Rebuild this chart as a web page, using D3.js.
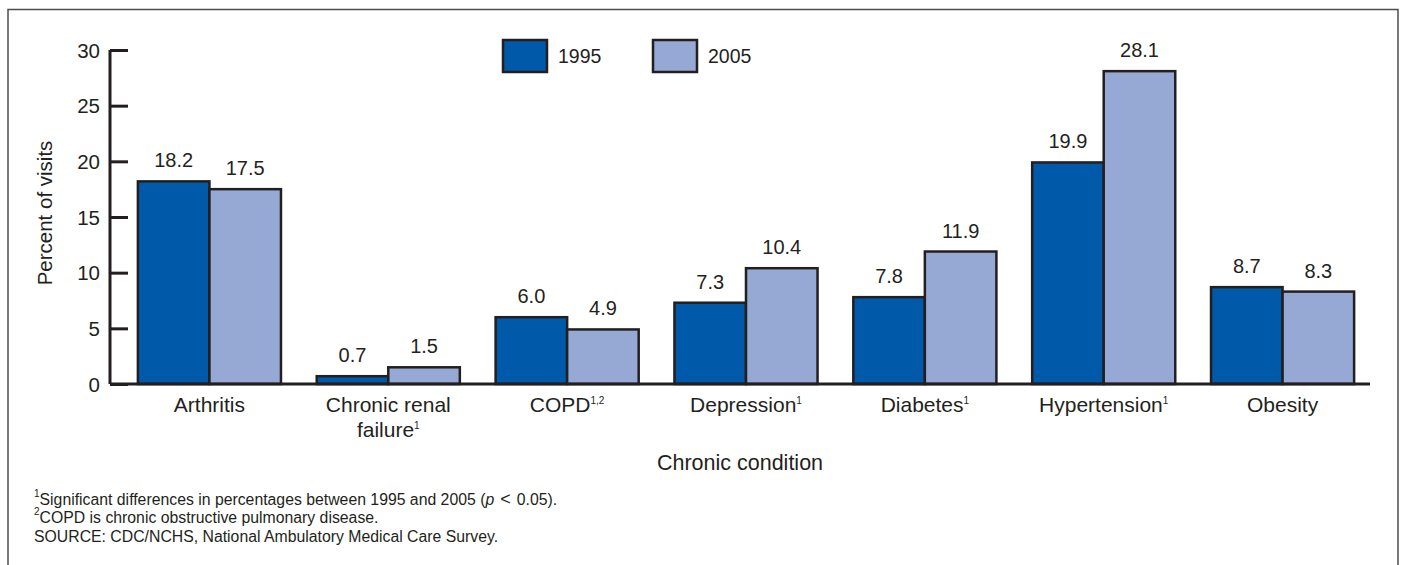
<!DOCTYPE html>
<meta charset="utf-8">
<style>
body { margin: 0; background: #fff; }
svg text { font-family: "Liberation Sans", Arial, sans-serif; fill: #231f20; }
.axis path, .axis line { stroke: #231f20; stroke-width: 3; }
.axis text { font-size: 20.5px; }
.bar { stroke: #231f20; stroke-width: 2.5; }
</style>
<svg class="chart" width="1401" height="565"></svg>
<script src="https://cdnjs.cloudflare.com/ajax/libs/d3/7.8.5/d3.min.js"></script>
<script>

// chart data
var conditions = ["Arthritis", "Chronic renal failure", "COPD", "Depression", "Diabetes", "Hypertension", "Obesity"];
var labelLines = [["Arthritis"], ["Chronic renal", "failure"], ["COPD"], ["Depression"], ["Diabetes"], ["Hypertension"], ["Obesity"]];
var labelSups = ["", "1", "1,2", "1", "1", "1", ""];
var years = ["1995", "2005"];
var values1995 = [18.2, 0.7, 6.0, 7.3, 7.8, 19.9, 8.7];
var values2005 = [17.5, 1.5, 4.9, 10.4, 11.9, 28.1, 8.3];
var yTicks = [0, 5, 10, 15, 20, 25, 30];
var colors = ["#005aa9", "#95a9d4"];

var svg = d3.select(".chart");

// frame
svg.append("path")
  .attr("d", "M8,566 V9.5 H1398 V566")
  .attr("fill", "none")
  .attr("stroke", "#4d4d4f")
  .attr("stroke-width", 1.5);

var y = d3.scaleLinear().domain([0, 30]).range([384, 50]);

var x = d3.scaleBand()
  .domain(conditions)
  .range([120, 1372])
  .paddingInner(0.2)
  .paddingOuter(0.1);

var xs = d3.scaleBand().domain(years).range([0, x.bandwidth()]);

var series = [values1995, values2005];

var groups = svg.selectAll("g.grp")
  .data(conditions)
  .enter().append("g")
  .attr("class", "grp")
  .attr("transform", function(d) { return "translate(" + x(d) + ",0)"; });

groups.each(function(c, i) {
  var g = d3.select(this);
  years.forEach(function(yr, j) {
    var v = series[j][i];
    g.append("rect")
      .attr("class", "bar")
      .attr("x", xs(yr))
      .attr("width", xs.bandwidth())
      .attr("y", y(v))
      .attr("height", y(0) - y(v))
      .attr("fill", colors[j]);
    g.append("text")
      .attr("x", xs(yr) + xs.bandwidth() / 2)
      .attr("y", y(v) - 14)
      .attr("text-anchor", "middle")
      .attr("font-size", 20)
      .text(v.toFixed(1));
  });
});

// y axis
var yAxis = d3.axisLeft(y).tickValues(yTicks).tickSize(-18).tickPadding(10);
var yg = svg.append("g")
  .attr("class", "axis")
  .attr("transform", "translate(110,0)")
  .call(yAxis);
yg.select(".domain").attr("d", "M0,50 V384");
yg.selectAll("text").attr("dy", "0.35em");

// x baseline
svg.append("line")
  .attr("x1", 110).attr("x2", 1370)
  .attr("y1", y(0)).attr("y2", y(0))
  .attr("stroke", "#231f20").attr("stroke-width", 3);

// x labels
conditions.forEach(function(c, i) {
  var cx = x(c) + x.bandwidth() / 2;
  var lines = labelLines[i];
  lines.forEach(function(line, k) {
    var t = svg.append("text")
      .attr("x", cx)
      .attr("y", 412 + k * 25)
      .attr("text-anchor", "middle")
      .attr("font-size", 21);
    t.append("tspan").text(line);
    if (k === lines.length - 1 && labelSups[i]) {
      t.append("tspan").attr("dy", -8).attr("font-size", 10).text(labelSups[i]);
    }
  });
});

// axis titles
svg.append("text")
  .attr("x", 740).attr("y", 470)
  .attr("text-anchor", "middle")
  .attr("font-size", 21.5)
  .text("Chronic condition");

svg.append("text")
  .attr("transform", "translate(52,213) rotate(-90)")
  .attr("text-anchor", "middle")
  .attr("font-size", 20.5)
  .text("Percent of visits");

// legend
var legX = [503, 653];
years.forEach(function(yr, j) {
  svg.append("rect")
    .attr("class", "bar")
    .attr("x", legX[j]).attr("y", 40)
    .attr("width", 44).attr("height", 32)
    .attr("fill", colors[j]);
  svg.append("text")
    .attr("x", legX[j] + 55).attr("y", 63)
    .attr("font-size", 19.5)
    .text(yr);
});

// footnotes
var fn = svg.append("g").attr("font-size", 15.8);
var f1 = fn.append("text").attr("x", 34).attr("y", 505);
f1.append("tspan").attr("font-size", 10).attr("dy", -8).text("1");
f1.append("tspan").attr("dy", 8).text("Significant differences in percentages between 1995 and 2005 (");
f1.append("tspan").attr("font-style", "italic").text("p");
f1.append("tspan").attr("dx", 6).attr("font-size", 18).text("<");
f1.append("tspan").attr("dx", 6).text("0.05).");
var f2 = fn.append("text").attr("x", 34).attr("y", 523);
f2.append("tspan").attr("font-size", 10).attr("dy", -8).text("2");
f2.append("tspan").attr("dy", 8).text("COPD is chronic obstructive pulmonary disease.");
fn.append("text").attr("x", 34).attr("y", 542)
  .text("SOURCE: CDC/NCHS, National Ambulatory Medical Care Survey.");

</script>
